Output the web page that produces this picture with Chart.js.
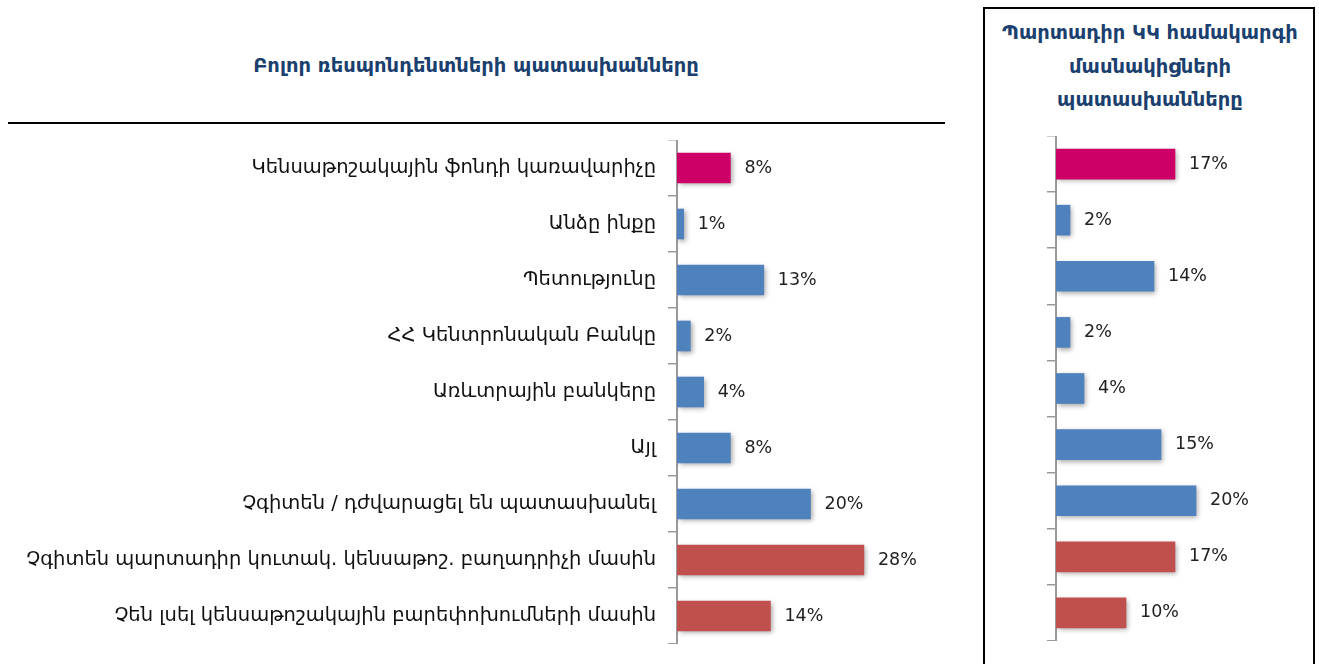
<!DOCTYPE html>
<html>
<head>
<meta charset="utf-8">
<script src="https://cdn.jsdelivr.net/npm/chart.js@4.4.0/dist/chart.umd.min.js"></script>
<style>
  body { margin: 0; background: #fff; width: 1319px; height: 664px; overflow: hidden; position: relative; font-family: "DejaVu Sans", sans-serif; }
  .title { position: absolute; color: #1b3f6e; font-weight: bold; text-align: center; font-size: 19.5px; }
  #leftTitle { left: 0; width: 952px; top: 54px; }
  #rule { position: absolute; left: 8px; top: 122px; width: 937px; height: 2px; background: #000; }
  #box { position: absolute; left: 983px; top: 7px; width: 328px; height: 700px; border: 2px solid #000; }
  #rightTitle { left: 985px; width: 330px; top: 16px; line-height: 33.5px; }
  canvas { position: absolute; }
  #leftChart { left: 0; top: 140px; }
  #rightChart { left: 990px; top: 136px; }
</style>
</head>
<body>
<div class="title" id="leftTitle">Բոլոր ռեսպոնդենտների պատասխանները</div>
<div id="rule"></div>
<div id="box"></div>
<div class="title" id="rightTitle">Պարտադիր ԿԿ համակարգի<br>մասնակիցների<br>պատասխանները</div>
<canvas id="leftChart" width="960" height="504"></canvas>
<canvas id="rightChart" width="320" height="505"></canvas>
<script>
// answers, same order in both panels
const categories = [
    'Կենսաթոշակային ֆոնդի կառավարիչը',
    'Անձը ինքը',
    'Պետությունը',
    'ՀՀ Կենտրոնական Բանկը',
    'Առևտրային բանկերը',
    'Այլ',
    'Չգիտեն / դժվարացել են պատասխանել',
    'Չգիտեն պարտադիր կուտակ. կենսաթոշ. բաղադրիչի մասին',
    'Չեն լսել կենսաթոշակային բարեփոխումների մասին'
];
const allRespondents = [8, 1, 13, 2, 4, 8, 20, 28, 14];   // %
const participants = [17, 2, 14, 2, 4, 15, 20, 17, 10];   // %

const MAGENTA = '#cc0066';
const BLUE = '#4f81bd';
const RED = '#c0504d';
const barColors = [MAGENTA, BLUE, BLUE, BLUE, BLUE, BLUE, BLUE, RED, RED];

// soft drop shadow under the bars
const barShadow = {
    id: 'barShadow',
    beforeDatasetsDraw(chart) {
        const c = chart.ctx;
        c.save();
        c.shadowColor = 'rgba(0,0,0,0.35)';
        c.shadowBlur = 5;
        c.shadowOffsetX = 2;
        c.shadowOffsetY = 2;
    },
    afterDatasetsDraw(chart) {
        chart.ctx.restore();
    }
};

// "8%" etc. to the right of each bar
const barLabels = {
    id: 'barLabels',
    afterDatasetsDraw(chart) {
        const ctx = chart.ctx;
        const values = chart.data.datasets[0].data;
        ctx.save();
        ctx.font = '17.5px "DejaVu Sans"';
        ctx.fillStyle = '#222';
        ctx.textBaseline = 'middle';
        chart.getDatasetMeta(0).data.forEach((bar, i) => {
            ctx.fillText(values[i] + '%', bar.x + 14, bar.y);
        });
        ctx.restore();
    }
};

function makeChart(id, values, axisWidth, xMax, showLabels, padRight) {
    const ctx = document.getElementById(id).getContext('2d');
    return new Chart(ctx, {
        type: 'bar',
        data: {
            labels: categories,
            datasets: [{
                data: values,
                backgroundColor: barColors,
                borderWidth: 0,
                barThickness: 30
            }]
        },
        options: {
            indexAxis: 'y',
            responsive: false,
            animation: false,
            layout: { padding: { left: 0, right: padRight, top: 0, bottom: 0 } },
            plugins: { legend: { display: false }, tooltip: { enabled: false } },
            scales: {
                x: { display: false, min: 0, max: xMax },
                y: {
                    // fixed axis position, no extra room for the label heights
                    afterFit: function(scale) {
                        scale.width = axisWidth;
                        scale.paddingTop = 0;
                        scale.paddingBottom = 0;
                    },
                    border: { display: true, color: '#9a9a9a', width: 2 },
                    grid: { offset: true, drawOnChartArea: false, tickLength: 9, color: '#9a9a9a', lineWidth: 1.5 },
                    ticks: {
                        display: showLabels,
                        padding: 12,
                        color: '#111',
                        font: { family: 'DejaVu Sans', size: 19.5 }
                    }
                }
            }
        },
        plugins: [barShadow, barLabels]
    });
}

makeChart('leftChart', allRespondents, 677, 40, true, 16);
makeChart('rightChart', participants, 66, 35, false, 9);
</script>
</body>
</html>
